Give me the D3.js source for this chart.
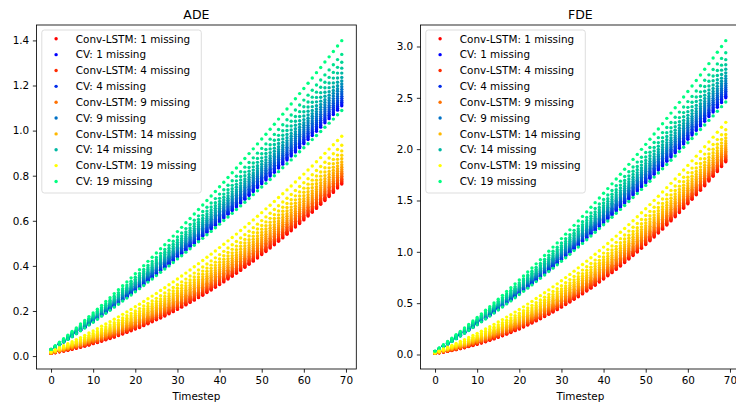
<!DOCTYPE html>
<html>
<head>
<meta charset="utf-8">
<script src="https://cdn.jsdelivr.net/npm/d3@7"></script>
<style>
  body { margin: 0; background: #fff; }
  svg { display: block; }
  text { font-family: "DejaVu Sans", sans-serif; fill: #000; }
</style>
</head>
<body>
<svg id="chart" width="736" height="403"></svg>
<script>
// Prediction horizon (x) and the numbers of missing input frames (one series each)
const timesteps = [0,1,2,3,4,5,6,7,8,9,10,11,12,13,14,15,16,17,18,19,20,21,22,23,24,25,26,27,28,29,30,31,32,33,34,35,36,37,38,39,40,41,42,43,44,45,46,47,48,49,50,51,52,53,54,55,56,57,58,59,60,61,62,63,64,65,66,67,68,69];
const missingCounts = [1,2,3,4,5,6,7,8,9,10,11,12,13,14,15,16,17,18,19];
const legendCounts = [1,4,9,14,19];

// ADE, Conv-LSTM: lowest (1 missing) and highest (19 missing) curves
const adeLstmLow = [0.012,0.015,0.019,0.022,0.026,0.030,0.035,0.039,0.044,0.049,0.055,0.060,0.066,0.072,0.078,0.084,0.091,0.098,0.105,0.112,0.120,0.127,0.135,0.143,0.152,0.161,0.169,0.178,0.188,0.197,0.207,0.217,0.227,0.238,0.248,0.259,0.270,0.282,0.293,0.305,0.317,0.329,0.342,0.354,0.367,0.380,0.394,0.407,0.421,0.435,0.450,0.464,0.479,0.494,0.509,0.524,0.540,0.556,0.572,0.588,0.604,0.621,0.638,0.655,0.673,0.690,0.708,0.726,0.745,0.763];
const adeLstmHigh = [0.020,0.028,0.037,0.046,0.055,0.064,0.073,0.082,0.092,0.102,0.111,0.121,0.132,0.142,0.152,0.163,0.174,0.185,0.196,0.207,0.219,0.230,0.242,0.254,0.266,0.278,0.291,0.303,0.316,0.329,0.342,0.355,0.368,0.382,0.396,0.410,0.424,0.438,0.452,0.466,0.481,0.496,0.511,0.526,0.541,0.557,0.572,0.588,0.604,0.620,0.636,0.653,0.669,0.686,0.703,0.720,0.737,0.754,0.772,0.790,0.807,0.825,0.843,0.862,0.880,0.899,0.918,0.937,0.956,0.975];
// ADE, CV: lowest curve (18 missing) and highest curve (19 missing)
const adeCvLow = [0.025,0.037,0.049,0.062,0.074,0.086,0.099,0.112,0.124,0.138,0.150,0.163,0.177,0.190,0.203,0.217,0.230,0.244,0.257,0.271,0.285,0.299,0.313,0.328,0.342,0.357,0.372,0.386,0.400,0.415,0.431,0.445,0.461,0.476,0.491,0.507,0.522,0.538,0.553,0.569,0.585,0.601,0.617,0.633,0.650,0.666,0.682,0.699,0.716,0.733,0.750,0.766,0.783,0.800,0.818,0.835,0.853,0.870,0.888,0.906,0.924,0.942,0.960,0.978,0.996,1.015,1.033,1.051,1.070,1.089];
const adeCvHigh = [0.030,0.046,0.061,0.077,0.093,0.109,0.125,0.142,0.158,0.175,0.191,0.208,0.225,0.242,0.259,0.277,0.294,0.312,0.329,0.347,0.365,0.383,0.401,0.420,0.438,0.457,0.476,0.494,0.513,0.532,0.552,0.571,0.591,0.610,0.630,0.650,0.670,0.690,0.710,0.730,0.751,0.771,0.792,0.813,0.834,0.855,0.876,0.898,0.919,0.941,0.963,0.984,1.006,1.028,1.051,1.073,1.096,1.118,1.141,1.164,1.187,1.210,1.233,1.257,1.280,1.304,1.327,1.351,1.375,1.399];
// ADE at the last timestep, per number of missing frames (1..19)
const adeLstmFinal = [0.763,0.768,0.773,0.778,0.784,0.790,0.797,0.804,0.811,0.819,0.828,0.838,0.849,0.861,0.875,0.891,0.910,0.935,0.975];
const adeCvFinal = [1.110,1.118,1.126,1.134,1.143,1.152,1.162,1.172,1.183,1.195,1.207,1.220,1.236,1.255,1.277,1.303,1.338,1.089,1.399];

// FDE, Conv-LSTM
const fdeLstmLow = [0.011,0.017,0.024,0.031,0.039,0.047,0.057,0.066,0.077,0.088,0.099,0.112,0.124,0.138,0.152,0.167,0.182,0.198,0.214,0.232,0.249,0.268,0.287,0.306,0.327,0.348,0.369,0.391,0.414,0.437,0.461,0.486,0.511,0.537,0.563,0.590,0.618,0.646,0.675,0.705,0.735,0.766,0.797,0.829,0.862,0.895,0.929,0.963,0.998,1.034,1.071,1.107,1.145,1.183,1.221,1.261,1.301,1.342,1.383,1.425,1.468,1.511,1.555,1.599,1.644,1.690,1.736,1.783,1.830,1.878];
const fdeLstmHigh = [0.020,0.036,0.053,0.071,0.089,0.107,0.126,0.145,0.165,0.185,0.206,0.227,0.248,0.270,0.293,0.316,0.340,0.364,0.388,0.413,0.438,0.464,0.491,0.517,0.545,0.573,0.601,0.629,0.659,0.688,0.718,0.749,0.780,0.812,0.844,0.876,0.909,0.942,0.976,1.011,1.046,1.081,1.117,1.153,1.190,1.227,1.265,1.303,1.341,1.380,1.420,1.460,1.501,1.542,1.583,1.625,1.667,1.710,1.754,1.797,1.842,1.886,1.932,1.977,2.023,2.070,2.117,2.165,2.213,2.261];
// FDE, CV
const fdeCvLow = [0.025,0.050,0.076,0.101,0.127,0.154,0.180,0.207,0.234,0.262,0.290,0.318,0.346,0.374,0.403,0.433,0.463,0.493,0.522,0.553,0.584,0.615,0.646,0.678,0.710,0.742,0.775,0.808,0.841,0.874,0.908,0.943,0.977,1.012,1.047,1.082,1.117,1.154,1.190,1.226,1.263,1.300,1.337,1.375,1.413,1.451,1.490,1.529,1.568,1.608,1.647,1.687,1.728,1.768,1.809,1.851,1.892,1.934,1.976,2.018,2.062,2.104,2.148,2.191,2.236,2.280,2.324,2.369,2.414,2.460];
const fdeCvHigh = [0.032,0.063,0.095,0.127,0.159,0.192,0.225,0.258,0.292,0.326,0.361,0.396,0.431,0.466,0.502,0.539,0.576,0.613,0.650,0.688,0.726,0.765,0.804,0.843,0.883,0.923,0.964,1.005,1.046,1.087,1.129,1.172,1.214,1.258,1.301,1.345,1.389,1.434,1.479,1.524,1.570,1.616,1.662,1.709,1.756,1.804,1.852,1.900,1.949,1.998,2.047,2.097,2.147,2.197,2.248,2.300,2.351,2.403,2.456,2.508,2.562,2.615,2.669,2.723,2.778,2.833,2.888,2.944,3.000,3.057];
const fdeLstmFinal = [1.878,1.887,1.896,1.905,1.916,1.927,1.939,1.952,1.965,1.979,1.996,2.014,2.033,2.055,2.080,2.109,2.143,2.189,2.261];
const fdeCvFinal = [2.500,2.516,2.531,2.547,2.564,2.581,2.600,2.620,2.641,2.664,2.687,2.712,2.743,2.779,2.822,2.872,2.939,2.460,3.057];

const adeTicks = [0.0,0.2,0.4,0.6,0.8,1.0,1.2,1.4];
const fdeTicks = [0.0,0.5,1.0,1.5,2.0,2.5,3.0];
const xTicks = [0,10,20,30,40,50,60,70];

// colour ramps: red -> yellow for Conv-LSTM, blue -> green for CV
const lstmColor = k => { const s = (k - 1) / 18; return d3.rgb(255, Math.round(255 * s), 0).toString(); };
const cvColor = k => { const s = (k - 1) / 18; return d3.rgb(0, Math.round(255 * s), Math.round(255 * (1 - s / 2))).toString(); };

const svg = d3.select("#chart");
const TOP = 25, BOTTOM = 369, WIDTH = 319.8;
const FONT = 10.42, TITLE_FONT = 12.5, TICK = 3.65, LW = 0.83;

// each series runs between the two bounding curves, placed by its last-timestep value
function buildSeries(low, high, finals) {
  const n = timesteps.length - 1;
  return missingCounts.map((k, i) => {
    const w = (finals[i] - low[n]) / (high[n] - low[n]);
    return { k, values: timesteps.map(t => low[t] + w * (high[t] - low[t])) };
  });
}

function panel(opts) {
  const g = svg.append("g");
  const lstm = buildSeries(opts.lstmLow, opts.lstmHigh, opts.lstmFinal);
  const cv = buildSeries(opts.cvLow, opts.cvHigh, opts.cvFinal);
  const all = lstm.concat(cv).flatMap(s => s.values);
  const yMin = d3.min(all), yMax = d3.max(all), yPad = (yMax - yMin) * 0.05;
  const xPad = (timesteps[timesteps.length - 1] - timesteps[0]) * 0.05;

  const x = d3.scaleLinear().domain([timesteps[0] - xPad, timesteps[timesteps.length - 1] + xPad])
    .range([opts.left, opts.left + WIDTH]);
  const y = d3.scaleLinear().domain([yMin - yPad, yMax + yPad]).range([BOTTOM, TOP]);

  // scatter points, drawn series by series: Conv-LSTM k, then CV k
  missingCounts.forEach((k, i) => {
    [[lstm[i], lstmColor(k)], [cv[i], cvColor(k)]].forEach(([s, col]) => {
      g.append("g").selectAll("circle").data(s.values).join("circle")
        .attr("cx", (d, t) => x(timesteps[t]))
        .attr("cy", d => y(d))
        .attr("r", 1.7)
        .attr("fill", col);
    });
  });

  // axes
  const xAxis = g.append("g").attr("transform", `translate(0,${BOTTOM})`)
    .call(d3.axisBottom(x).tickValues(xTicks).tickFormat(d3.format("d")).tickSize(TICK).tickPadding(TICK));
  const yAxis = g.append("g").attr("transform", `translate(${opts.left},0)`)
    .call(d3.axisLeft(y).tickValues(opts.yTicks).tickFormat(d3.format(".1f")).tickSize(TICK).tickPadding(TICK));
  [xAxis, yAxis].forEach(a => {
    a.select(".domain").remove();
    a.selectAll("line").attr("stroke", "#000").attr("stroke-width", LW);
    a.selectAll("text").attr("font-size", FONT).attr("font-family", "DejaVu Sans").attr("fill", "#000");
  });

  g.append("rect").attr("x", opts.left).attr("y", TOP).attr("width", WIDTH).attr("height", BOTTOM - TOP)
    .attr("fill", "none").attr("stroke", "#000").attr("stroke-width", LW);

  g.append("text").attr("x", opts.left + WIDTH / 2).attr("y", 18.5).attr("text-anchor", "middle")
    .attr("font-size", TITLE_FONT).text(opts.title);
  g.append("text").attr("x", opts.left + WIDTH / 2).attr("y", 399.5).attr("text-anchor", "middle")
    .attr("font-size", FONT).text("Timestep");

  // legend
  const lx = opts.left + 5.3, ly = 30;
  const lg = g.append("g");
  lg.append("rect").attr("x", lx).attr("y", ly).attr("width", 159.5).attr("height", 163)
    .attr("rx", 2.6).attr("fill", "#fff").attr("fill-opacity", 0.8)
    .attr("stroke", "#d6d6d6").attr("stroke-width", LW);
  const entries = legendCounts.flatMap(k => [
    { label: `Conv-LSTM: ${k} missing`, color: lstmColor(k) },
    { label: `CV: ${k} missing`, color: cvColor(k) }
  ]);
  entries.forEach((e, i) => {
    const cy = 38.8 + i * 15.85;
    lg.append("circle").attr("cx", lx + 14.3).attr("cy", cy).attr("r", 1.7).attr("fill", e.color);
    lg.append("text").attr("x", lx + 34).attr("y", cy + 3.7).attr("font-size", FONT).text(e.label);
  });
}

panel({ title: "ADE", left: 36.5, yTicks: adeTicks,
  lstmLow: adeLstmLow, lstmHigh: adeLstmHigh, lstmFinal: adeLstmFinal,
  cvLow: adeCvLow, cvHigh: adeCvHigh, cvFinal: adeCvFinal });
panel({ title: "FDE", left: 420.5, yTicks: fdeTicks,
  lstmLow: fdeLstmLow, lstmHigh: fdeLstmHigh, lstmFinal: fdeLstmFinal,
  cvLow: fdeCvLow, cvHigh: fdeCvHigh, cvFinal: fdeCvFinal });
</script>
</body>
</html>
